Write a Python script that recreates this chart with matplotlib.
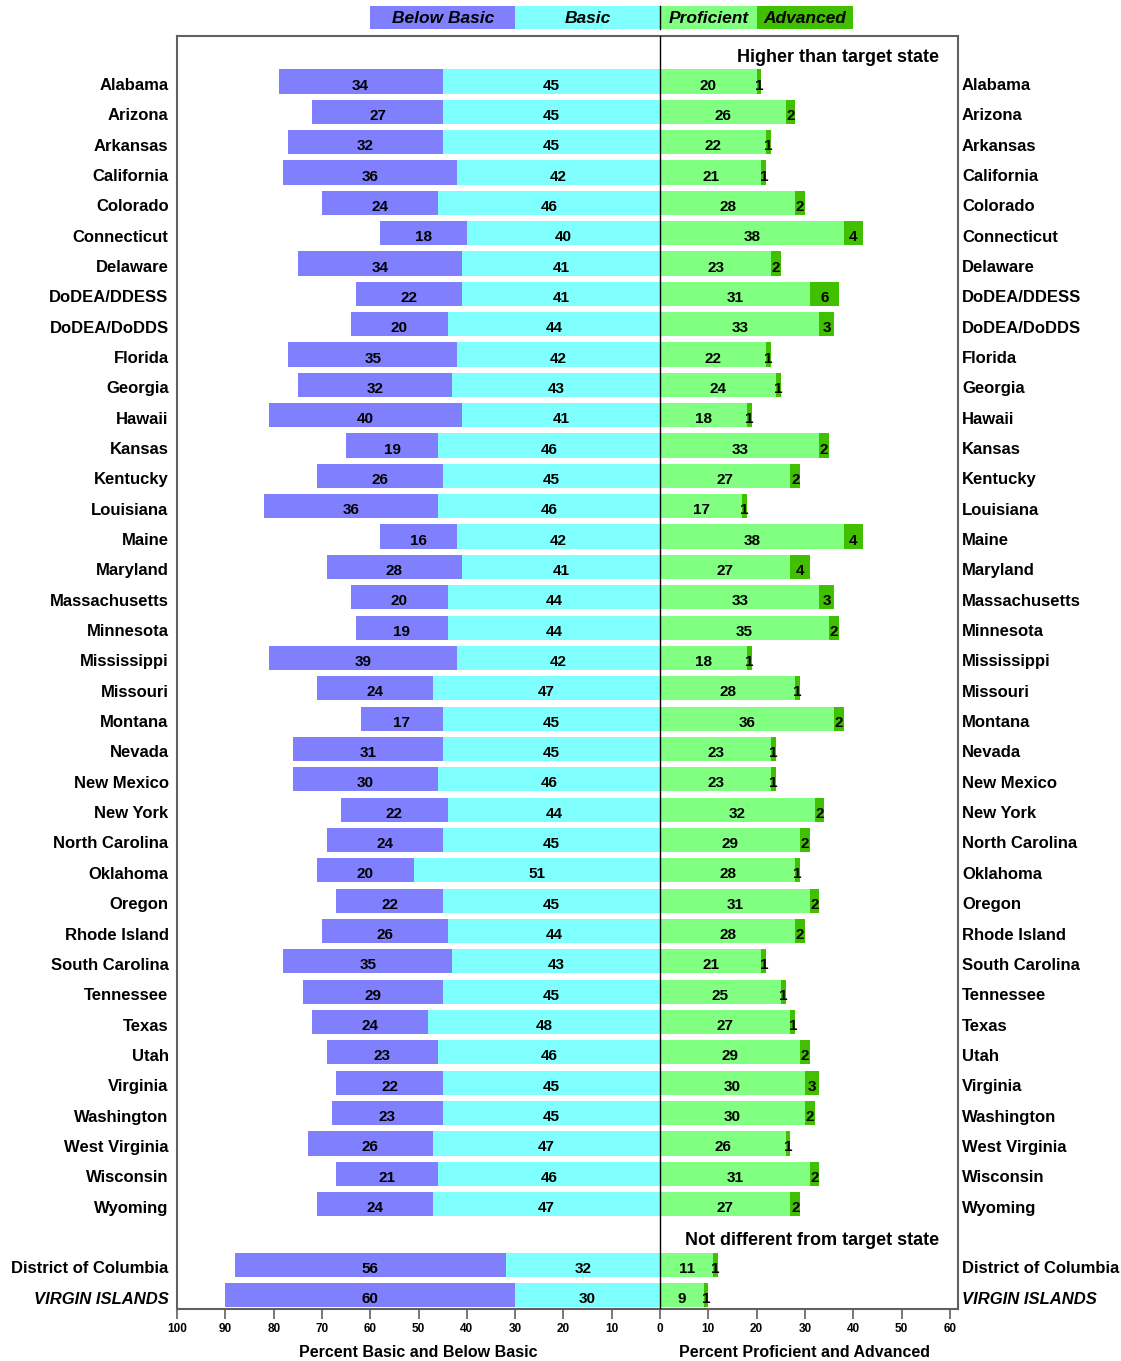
import numpy as np
import matplotlib.pyplot as plt
from matplotlib.patches import Rectangle
from matplotlib.transforms import blended_transform_factory, offset_copy

plt.rcParams['font.family'] = ['Liberation Sans', 'DejaVu Sans']

states = ['Alabama', 'Arizona', 'Arkansas', 'California', 'Colorado', 'Connecticut',
          'Delaware', 'DoDEA/DDESS', 'DoDEA/DoDDS', 'Florida', 'Georgia', 'Hawaii',
          'Kansas', 'Kentucky', 'Louisiana', 'Maine', 'Maryland', 'Massachusetts',
          'Minnesota', 'Mississippi', 'Missouri', 'Montana', 'Nevada', 'New Mexico',
          'New York', 'North Carolina', 'Oklahoma', 'Oregon', 'Rhode Island',
          'South Carolina', 'Tennessee', 'Texas', 'Utah', 'Virginia', 'Washington',
          'West Virginia', 'Wisconsin', 'Wyoming']
below_basic = [34, 27, 32, 36, 24, 18, 34, 22, 20, 35, 32, 40, 19, 26, 36, 16, 28, 20,
               19, 39, 24, 17, 31, 30, 22, 24, 20, 22, 26, 35, 29, 24, 23, 22, 23, 26, 21, 24]
basic = [45, 45, 45, 42, 46, 40, 41, 41, 44, 42, 43, 41, 46, 45, 46, 42, 41, 44,
         44, 42, 47, 45, 45, 46, 44, 45, 51, 45, 44, 43, 45, 48, 46, 45, 45, 47, 46, 47]
proficient = [20, 26, 22, 21, 28, 38, 23, 31, 33, 22, 24, 18, 33, 27, 17, 38, 27, 33,
              35, 18, 28, 36, 23, 23, 32, 29, 28, 31, 28, 21, 25, 27, 29, 30, 30, 26, 31, 27]
advanced = [1, 2, 1, 1, 2, 4, 2, 6, 3, 1, 1, 1, 2, 2, 1, 4, 4, 3,
            2, 1, 1, 2, 1, 1, 2, 2, 1, 2, 2, 1, 1, 1, 2, 3, 2, 1, 2, 2]

# jurisdictions not different from the target state
other_names = ['District of Columbia', 'VIRGIN ISLANDS']
other_below_basic = [56, 60]
other_basic = [32, 30]
other_proficient = [11, 9]
other_advanced = [1, 1]

categories = ['Below Basic', 'Basic', 'Proficient', 'Advanced']
colors = ['#8080FF', '#80FFFF', '#80FF80', '#40C000']
# legend key spans along the x scale
legend_spans = [(-60, -30), (-30, 0), (0, 20), (20, 40)]

names = states + other_names
bb = np.array(below_basic + other_below_basic)
ba = np.array(basic + other_basic)
pr = np.array(proficient + other_proficient)
ad = np.array(advanced + other_advanced)
ypos = np.concatenate([np.arange(1, len(states) + 1),
                       np.arange(len(states) + 2, len(states) + 2 + len(other_names))])

fig = plt.figure(figsize=(11.21, 13.61), dpi=100)
ax = fig.add_axes([0.158, 0.0382, 0.6966, 0.9353])

# row texts sit a couple of pixels below the bar centre
data_tr = offset_copy(ax.transData, fig=fig, y=-2.5, units='dots')

h = 0.8
segs = [(-(ba + bb), bb), (-ba, ba), (np.zeros_like(pr), pr), (pr, ad)]
for (left, width), c in zip(segs, colors):
    ax.barh(ypos, width, left=left, height=h, color=c, edgecolor='none', zorder=2)
    for y, l, w in zip(ypos, left, width):
        ax.text(l + w / 2, y, str(w), transform=data_tr, ha='center',
                va='center_baseline', fontsize=11, fontweight='bold', zorder=3)

ax.axvline(0, color='black', lw=1, zorder=4)
ax.set_xlim(-100, 61.7)
ax.set_ylim(len(names) + 1.46, -0.5)

ax.set_xticks(np.arange(-100, 61, 10))
ax.set_xticklabels([str(abs(v)) for v in range(-100, 61, 10)], fontsize=8.5,
                   fontweight='bold')
ax.tick_params(axis='x', direction='out', length=7, width=1.2, color='#606060', pad=3)
ax.set_yticks([])
for s in ax.spines.values():
    s.set_color('#606060')
    s.set_linewidth(1.5)

# state names on both sides
ytr = offset_copy(blended_transform_factory(ax.transAxes, ax.transData), fig=fig,
                  y=-2.5, units='dots')
for y, n in zip(ypos, names):
    style = 'italic' if n == 'VIRGIN ISLANDS' else 'normal'
    ax.text(-0.011, y, n, transform=ytr, ha='right', va='center_baseline',
            fontsize=12, fontweight='bold', style=style)
    ax.text(1.005, y, n, transform=ytr, ha='left', va='center_baseline',
            fontsize=12, fontweight='bold', style=style)

head_tr = offset_copy(ax.transData, fig=fig, y=-4, units='dots')
ax.text(57.8, 0, 'Higher than target state', transform=head_tr, ha='right',
        va='center_baseline', fontsize=13, fontweight='bold')
ax.text(57.8, len(states) + 1, 'Not different from target state', transform=head_tr,
        ha='right', va='center_baseline', fontsize=13, fontweight='bold')

# legend keys above the plot
xtr = blended_transform_factory(ax.transData, ax.transAxes)
for (x0, x1), c, lab in zip(legend_spans, colors, categories):
    ax.add_patch(Rectangle((x0, 1.00574), x1 - x0, 0.01783, transform=xtr,
                           facecolor=c, edgecolor='none', clip_on=False))
    ax.text((x0 + x1) / 2, 1.0147, lab, transform=xtr, ha='center',
            va='center_baseline', fontsize=12.5, fontweight='bold', style='italic')
ax.plot([0, 0], [1.00574, 1.02357], transform=xtr, color='black', lw=1, clip_on=False)

ax.text(-50, -0.033, 'Percent Basic and Below Basic', transform=xtr, ha='center',
        va='center_baseline', fontsize=11.5, fontweight='bold')
ax.text(30, -0.033, 'Percent Proficient and Advanced', transform=xtr, ha='center',
        va='center_baseline', fontsize=11.5, fontweight='bold')

fig.savefig('out.png', dpi=100)
